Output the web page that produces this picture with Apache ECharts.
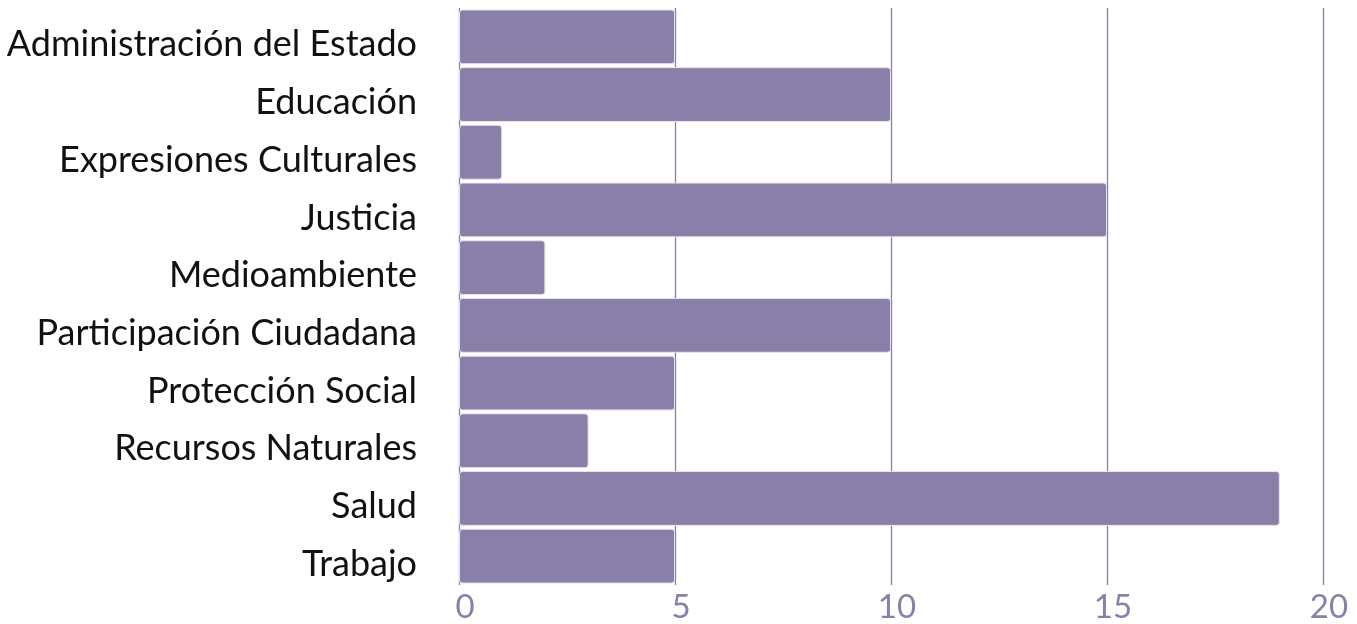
<!DOCTYPE html>
<html><head><meta charset="utf-8">
<script src="https://cdn.jsdelivr.net/npm/echarts@6/dist/echarts.min.js"></script>
<style>html,body{margin:0;padding:0;background:#fff}#c{width:1357px;height:624px}</style>
</head><body><div id="c"></div>
<script>
const categories = ["Administración del Estado","Educación","Expresiones Culturales","Justicia","Medioambiente","Participación Ciudadana","Protección Social","Recursos Naturales","Salud","Trabajo"];
const values = [5,10,1,15,2,10,5,3,19,5];
const xTicks = {min:0,max:20,interval:5};
const chart = echarts.init(document.getElementById('c'));
chart.setOption({
  animation:false,
  grid:{left:459,right:34,top:8,bottom:37,containLabel:false},
  xAxis:{type:'value',min:xTicks.min,max:xTicks.max,interval:xTicks.interval,
    axisLine:{show:false},axisTick:{show:false},
    splitLine:{show:true,lineStyle:{color:'#8a7fa8',width:1.3}},
    axisLabel:{color:'#8a7fa8',fontSize:33,fontFamily:'Lato',margin:6,padding:[0,0,0,12]}},
  yAxis:{type:'category',data:categories,inverse:true,
    axisLine:{show:false},axisTick:{show:false},
    axisLabel:{color:'#111',fontSize:36,fontFamily:'Lato',margin:42,verticalAlign:'top',lineHeight:16}},
  series:[{type:'bar',data:values,barCategoryGap:'5%',
    itemStyle:{color:'#8a7fa8',borderRadius:3,borderColor:'#e8e4f0',borderWidth:1}}]
});
</script></body></html>
